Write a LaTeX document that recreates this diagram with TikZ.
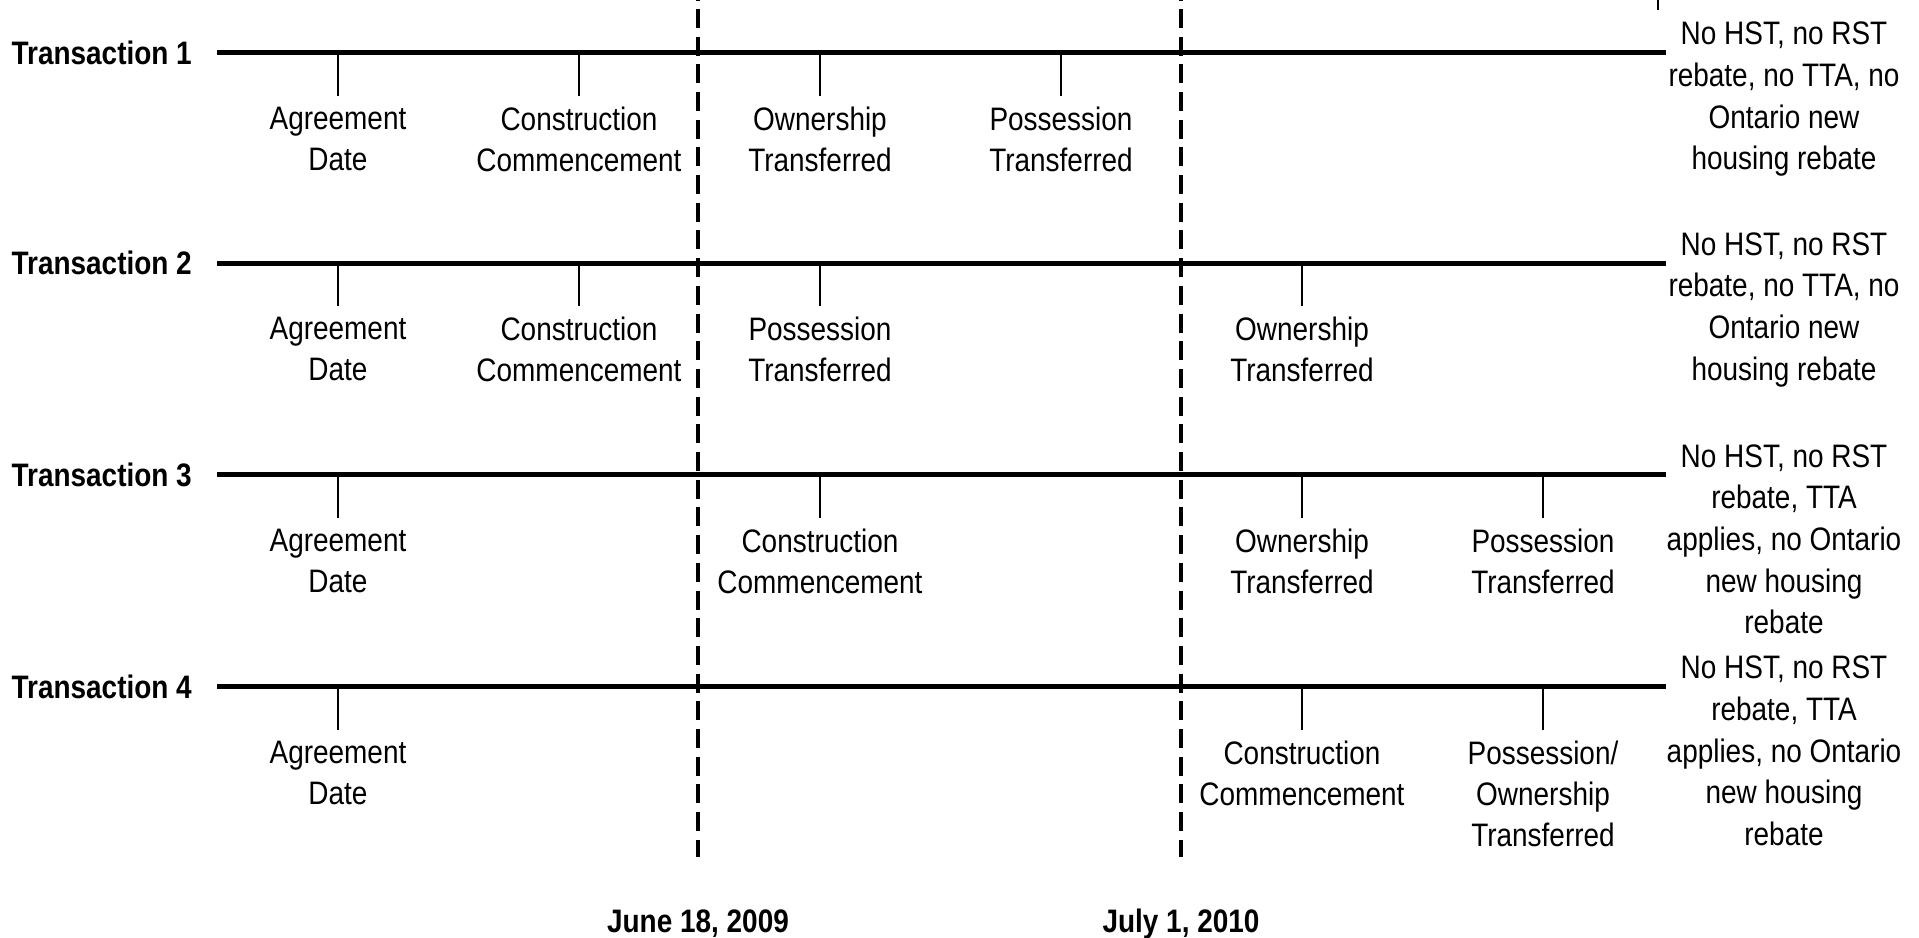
\documentclass[tikz,border=0pt]{standalone}
\usepackage{fontspec}
\setmainfont{Liberation Sans}[FakeStretch=0.86]
\begin{document}
\begin{tikzpicture}[x=1pt,y=-1pt,
  timeline/.style={line width=5pt},
  tickline/.style={line width=2pt},
  divider/.style={line width=3.5pt, dash pattern=on 19pt off 8.7pt, dash phase=18.9pt},
  lbl/.style={anchor=north, align=center, inner sep=0pt, font=\fontsize{32.5}{41}\selectfont},
  note/.style={anchor=north, align=center, inner sep=0pt, font=\fontsize{32.5}{41.6}\selectfont},
  tname/.style={anchor=base east, inner sep=0pt, font=\fontsize{32.5}{41}\selectfont\bfseries},
  datelbl/.style={anchor=base, inner sep=0pt, font=\fontsize{32.5}{41}\selectfont\bfseries}]
\useasboundingbox (0,0) rectangle (1919,937);

% dividers
\coordinate (D1t) at (698,0);
\coordinate (D1b) at (698,857);
\coordinate (D2t) at (1181,0);
\coordinate (D2b) at (1181,857);
\draw[divider] (D1t) -- (D1b);
\draw[divider] (D2t) -- (D2b);
\node[datelbl] (date1) at (698,932) {June 18, 2009};
\node[datelbl] (date2) at (1181,932) {July 1, 2010};

% small mark top right
\coordinate (m1) at (1658,0);
\coordinate (m2) at (1658,10);
\draw[tickline] (m1) -- (m2);

% ---------- Row 1 ----------
\coordinate (L1) at (217,52.6);
\coordinate (R1) at (1666,52.6);
\draw[timeline] (L1) -- (R1);
\node[tname] (T1) at (192,64) {Transaction 1};
\node[note] (N1) at (1784,22) {No HST, no RST\\rebate, no TTA, no\\Ontario new\\housing rebate};
\node[lbl] (A1) at (338,106.5) {Agreement\\Date};
\node[lbl] (C1) at (579,106.5) {Construction\\Commencement};
\node[lbl] (O1) at (820,106.5) {Ownership\\Transferred};
\node[lbl] (P1) at (1061,106.5) {Possession\\Transferred};
\foreach \n in {A1,C1,O1,P1} \draw[tickline] (\n.north |- L1) -- ++(0,43);

% ---------- Row 2 ----------
\coordinate (L2) at (217,263.1);
\coordinate (R2) at (1666,263.1);
\draw[timeline] (L2) -- (R2);
\node[tname] (T2) at (192,274.6) {Transaction 2};
\node[note] (N2) at (1784,232.5) {No HST, no RST\\rebate, no TTA, no\\Ontario new\\housing rebate};
\node[lbl] (A2) at (338,317) {Agreement\\Date};
\node[lbl] (C2) at (579,317) {Construction\\Commencement};
\node[lbl] (P2) at (820,317) {Possession\\Transferred};
\node[lbl] (O2) at (1302,317) {Ownership\\Transferred};
\foreach \n in {A2,C2,P2,O2} \draw[tickline] (\n.north |- L2) -- ++(0,43);

% ---------- Row 3 ----------
\coordinate (L3) at (217,474.9);
\coordinate (R3) at (1666,474.9);
\draw[timeline] (L3) -- (R3);
\node[tname] (T3) at (192,486.4) {Transaction 3};
\node[note] (N3) at (1784,444.3) {No HST, no RST\\rebate, TTA\\applies, no Ontario\\new housing\\rebate};
\node[lbl] (A3) at (338,528.8) {Agreement\\Date};
\node[lbl] (C3) at (820,528.8) {Construction\\Commencement};
\node[lbl] (O3) at (1302,528.8) {Ownership\\Transferred};
\node[lbl] (P3) at (1543,528.8) {Possession\\Transferred};
\foreach \n in {A3,C3,O3,P3} \draw[tickline] (\n.north |- L3) -- ++(0,43);

% ---------- Row 4 ----------
\coordinate (L4) at (217,686.6);
\coordinate (R4) at (1666,686.6);
\draw[timeline] (L4) -- (R4);
\node[tname] (T4) at (192,698.1) {Transaction 4};
\node[note] (N4) at (1784,656) {No HST, no RST\\rebate, TTA\\applies, no Ontario\\new housing\\rebate};
\node[lbl] (A4) at (338,740.5) {Agreement\\Date};
\node[lbl] (C4) at (1302,740.5) {Construction\\Commencement};
\node[lbl] (P4) at (1543,740.5) {Possession/\\Ownership\\Transferred};
\foreach \n in {A4,C4,P4} \draw[tickline] (\n.north |- L4) -- ++(0,43);
\end{tikzpicture}
\end{document}
